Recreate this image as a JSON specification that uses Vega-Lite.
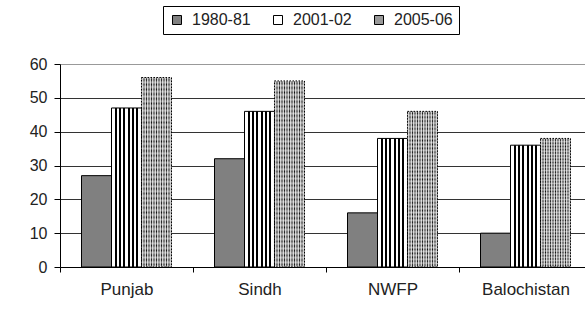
{
  "$schema": "https://vega.github.io/schema/vega-lite/v6.json",
  "width": 532,
  "height": 203,
  "autosize": {"type": "none"},
  "padding": {"left": 60, "top": 64, "right": 0, "bottom": 43},
  "background": "white",
  "config": {"font": "Liberation Sans", "view": {"stroke": null}},
  "data": {"values": [
    {"region": "Punjab", "series": "1980-81", "value": 27},
    {"region": "Punjab", "series": "2001-02", "value": 47},
    {"region": "Punjab", "series": "2005-06", "value": 56},
    {"region": "Sindh", "series": "1980-81", "value": 32},
    {"region": "Sindh", "series": "2001-02", "value": 46},
    {"region": "Sindh", "series": "2005-06", "value": 55},
    {"region": "NWFP", "series": "1980-81", "value": 16},
    {"region": "NWFP", "series": "2001-02", "value": 38},
    {"region": "NWFP", "series": "2005-06", "value": 46},
    {"region": "Balochistan", "series": "1980-81", "value": 10},
    {"region": "Balochistan", "series": "2001-02", "value": 36},
    {"region": "Balochistan", "series": "2005-06", "value": 38}
  ]},
  "encoding": {
    "x": {
      "field": "region", "type": "nominal",
      "sort": ["Punjab", "Sindh", "NWFP", "Balochistan"],
      "scale": {"paddingInner": 0, "paddingOuter": 0},
      "axis": {
        "title": null, "labelAngle": 0, "tickBand": "extent",
        "domainColor": "black", "tickColor": "black", "tickSize": 5,
        "labelFontSize": 17, "labelColor": "#222222", "labelPadding": 9,
        "labelFont": "Liberation Sans"
      }
    },
    "xOffset": {
      "field": "series", "type": "nominal",
      "scale": {"domain": ["1980-81", "2001-02", "2005-06"], "paddingInner": 0, "paddingOuter": 0.7167}
    },
    "y": {
      "field": "value", "type": "quantitative",
      "scale": {"domain": [0, 60]},
      "axis": {
        "title": null, "values": [0, 10, 20, 30, 40, 50, 60],
        "grid": true,
        "gridColor": {"condition": {"test": "datum.value === 60", "value": "#999999"}, "value": "#333333"},
        "domainColor": "black", "tickColor": "black", "tickSize": 6,
        "labelFontSize": 16, "labelColor": "#222222", "labelPadding": 7,
        "labelFont": "Liberation Sans"
      }
    }
  },
  "layer": [
    {
      "transform": [{"filter": "datum.series === '1980-81'"}],
      "mark": {"type": "bar", "stroke": "black", "strokeWidth": 1},
      "encoding": {
        "color": {
          "field": "series", "type": "nominal",
          "scale": {"domain": ["1980-81", "2001-02", "2005-06"], "range": ["#808080", "#ffffff", "#999999"]},
          "legend": {
            "orient": "none", "legendX": 103, "legendY": -58,
            "direction": "horizontal", "title": null,
            "symbolType": "square", "symbolSize": 81,
            "symbolStrokeColor": "black", "symbolStrokeWidth": 1, "symbolOpacity": 1,
            "labelFontSize": 16, "labelFont": "Liberation Sans", "labelColor": "#222222",
            "labelOffset": 7, "columnPadding": 19, "padding": 6,
            "strokeColor": "black", "fillColor": "white"
          }
        }
      }
    },
    {
      "transform": [{"filter": "datum.series === '2001-02'"}],
      "mark": {
        "type": "bar", "stroke": "black", "strokeWidth": 1,
        "fill": {"gradient": "linear", "x1": 0, "y1": 0, "x2": 1, "y2": 0, "stops": [
          {"offset": 0, "color": "#ffffff"},
          {"offset": 0.113, "color": "#ffffff"}, {"offset": 0.113, "color": "#000000"},
          {"offset": 0.173, "color": "#000000"}, {"offset": 0.173, "color": "#ffffff"},
          {"offset": 0.256, "color": "#ffffff"}, {"offset": 0.256, "color": "#000000"},
          {"offset": 0.316, "color": "#000000"}, {"offset": 0.316, "color": "#ffffff"},
          {"offset": 0.399, "color": "#ffffff"}, {"offset": 0.399, "color": "#000000"},
          {"offset": 0.459, "color": "#000000"}, {"offset": 0.459, "color": "#ffffff"},
          {"offset": 0.541, "color": "#ffffff"}, {"offset": 0.541, "color": "#000000"},
          {"offset": 0.601, "color": "#000000"}, {"offset": 0.601, "color": "#ffffff"},
          {"offset": 0.684, "color": "#ffffff"}, {"offset": 0.684, "color": "#000000"},
          {"offset": 0.744, "color": "#000000"}, {"offset": 0.744, "color": "#ffffff"},
          {"offset": 0.827, "color": "#ffffff"}, {"offset": 0.827, "color": "#000000"},
          {"offset": 0.887, "color": "#000000"}, {"offset": 0.887, "color": "#ffffff"},
          {"offset": 1, "color": "#ffffff"}
        ]}
      },
      "encoding": {}
    },
    {
      "transform": [{"filter": "datum.series === '2005-06'"}],
      "mark": {
        "type": "bar", "strokeWidth": 0,
        "fill": {"gradient": "linear", "x1": 0, "y1": 0, "x2": 1, "y2": 0, "stops": [
          {"offset": 0, "color": "#111111"}, {"offset": 0.0417, "color": "#f5f5f5"},
          {"offset": 0.0833, "color": "#111111"}, {"offset": 0.125, "color": "#f5f5f5"},
          {"offset": 0.1667, "color": "#111111"}, {"offset": 0.2083, "color": "#f5f5f5"},
          {"offset": 0.25, "color": "#111111"}, {"offset": 0.2917, "color": "#f5f5f5"},
          {"offset": 0.3333, "color": "#111111"}, {"offset": 0.375, "color": "#f5f5f5"},
          {"offset": 0.4167, "color": "#111111"}, {"offset": 0.4583, "color": "#f5f5f5"},
          {"offset": 0.5, "color": "#111111"}, {"offset": 0.5417, "color": "#f5f5f5"},
          {"offset": 0.5833, "color": "#111111"}, {"offset": 0.625, "color": "#f5f5f5"},
          {"offset": 0.6667, "color": "#111111"}, {"offset": 0.7083, "color": "#f5f5f5"},
          {"offset": 0.75, "color": "#111111"}, {"offset": 0.7917, "color": "#f5f5f5"},
          {"offset": 0.8333, "color": "#111111"}, {"offset": 0.875, "color": "#f5f5f5"},
          {"offset": 0.9167, "color": "#111111"}, {"offset": 0.9583, "color": "#f5f5f5"},
          {"offset": 1, "color": "#111111"}
        ]}
      },
      "encoding": {}
    },
    {
      "transform": [{"filter": "datum.series === '2005-06'"}],
      "mark": {
        "type": "bar", "stroke": "black", "strokeWidth": 1, "strokeDash": [1.5, 1.5],
        "fill": {"gradient": "linear", "x1": 0, "y1": 0, "x2": 0, "y2": 1, "stops": [
          {"offset": 0, "color": "rgba(255,255,255,0.5)"}, {"offset": 0.0125, "color": "rgba(255,255,255,0)"},
          {"offset": 0.025, "color": "rgba(255,255,255,0.5)"}, {"offset": 0.0375, "color": "rgba(255,255,255,0)"},
          {"offset": 0.05, "color": "rgba(255,255,255,0.5)"}, {"offset": 0.0625, "color": "rgba(255,255,255,0)"},
          {"offset": 0.075, "color": "rgba(255,255,255,0.5)"}, {"offset": 0.0875, "color": "rgba(255,255,255,0)"},
          {"offset": 0.1, "color": "rgba(255,255,255,0.5)"}, {"offset": 0.1125, "color": "rgba(255,255,255,0)"},
          {"offset": 0.125, "color": "rgba(255,255,255,0.5)"}, {"offset": 0.1375, "color": "rgba(255,255,255,0)"},
          {"offset": 0.15, "color": "rgba(255,255,255,0.5)"}, {"offset": 0.1625, "color": "rgba(255,255,255,0)"},
          {"offset": 0.175, "color": "rgba(255,255,255,0.5)"}, {"offset": 0.1875, "color": "rgba(255,255,255,0)"},
          {"offset": 0.2, "color": "rgba(255,255,255,0.5)"}, {"offset": 0.2125, "color": "rgba(255,255,255,0)"},
          {"offset": 0.225, "color": "rgba(255,255,255,0.5)"}, {"offset": 0.2375, "color": "rgba(255,255,255,0)"},
          {"offset": 0.25, "color": "rgba(255,255,255,0.5)"}, {"offset": 0.2625, "color": "rgba(255,255,255,0)"},
          {"offset": 0.275, "color": "rgba(255,255,255,0.5)"}, {"offset": 0.2875, "color": "rgba(255,255,255,0)"},
          {"offset": 0.3, "color": "rgba(255,255,255,0.5)"}, {"offset": 0.3125, "color": "rgba(255,255,255,0)"},
          {"offset": 0.325, "color": "rgba(255,255,255,0.5)"}, {"offset": 0.3375, "color": "rgba(255,255,255,0)"},
          {"offset": 0.35, "color": "rgba(255,255,255,0.5)"}, {"offset": 0.3625, "color": "rgba(255,255,255,0)"},
          {"offset": 0.375, "color": "rgba(255,255,255,0.5)"}, {"offset": 0.3875, "color": "rgba(255,255,255,0)"},
          {"offset": 0.4, "color": "rgba(255,255,255,0.5)"}, {"offset": 0.4125, "color": "rgba(255,255,255,0)"},
          {"offset": 0.425, "color": "rgba(255,255,255,0.5)"}, {"offset": 0.4375, "color": "rgba(255,255,255,0)"},
          {"offset": 0.45, "color": "rgba(255,255,255,0.5)"}, {"offset": 0.4625, "color": "rgba(255,255,255,0)"},
          {"offset": 0.475, "color": "rgba(255,255,255,0.5)"}, {"offset": 0.4875, "color": "rgba(255,255,255,0)"},
          {"offset": 0.5, "color": "rgba(255,255,255,0.5)"}, {"offset": 0.5125, "color": "rgba(255,255,255,0)"},
          {"offset": 0.525, "color": "rgba(255,255,255,0.5)"}, {"offset": 0.5375, "color": "rgba(255,255,255,0)"},
          {"offset": 0.55, "color": "rgba(255,255,255,0.5)"}, {"offset": 0.5625, "color": "rgba(255,255,255,0)"},
          {"offset": 0.575, "color": "rgba(255,255,255,0.5)"}, {"offset": 0.5875, "color": "rgba(255,255,255,0)"},
          {"offset": 0.6, "color": "rgba(255,255,255,0.5)"}, {"offset": 0.6125, "color": "rgba(255,255,255,0)"},
          {"offset": 0.625, "color": "rgba(255,255,255,0.5)"}, {"offset": 0.6375, "color": "rgba(255,255,255,0)"},
          {"offset": 0.65, "color": "rgba(255,255,255,0.5)"}, {"offset": 0.6625, "color": "rgba(255,255,255,0)"},
          {"offset": 0.675, "color": "rgba(255,255,255,0.5)"}, {"offset": 0.6875, "color": "rgba(255,255,255,0)"},
          {"offset": 0.7, "color": "rgba(255,255,255,0.5)"}, {"offset": 0.7125, "color": "rgba(255,255,255,0)"},
          {"offset": 0.725, "color": "rgba(255,255,255,0.5)"}, {"offset": 0.7375, "color": "rgba(255,255,255,0)"},
          {"offset": 0.75, "color": "rgba(255,255,255,0.5)"}, {"offset": 0.7625, "color": "rgba(255,255,255,0)"},
          {"offset": 0.775, "color": "rgba(255,255,255,0.5)"}, {"offset": 0.7875, "color": "rgba(255,255,255,0)"},
          {"offset": 0.8, "color": "rgba(255,255,255,0.5)"}, {"offset": 0.8125, "color": "rgba(255,255,255,0)"},
          {"offset": 0.825, "color": "rgba(255,255,255,0.5)"}, {"offset": 0.8375, "color": "rgba(255,255,255,0)"},
          {"offset": 0.85, "color": "rgba(255,255,255,0.5)"}, {"offset": 0.8625, "color": "rgba(255,255,255,0)"},
          {"offset": 0.875, "color": "rgba(255,255,255,0.5)"}, {"offset": 0.8875, "color": "rgba(255,255,255,0)"},
          {"offset": 0.9, "color": "rgba(255,255,255,0.5)"}, {"offset": 0.9125, "color": "rgba(255,255,255,0)"},
          {"offset": 0.925, "color": "rgba(255,255,255,0.5)"}, {"offset": 0.9375, "color": "rgba(255,255,255,0)"},
          {"offset": 0.95, "color": "rgba(255,255,255,0.5)"}, {"offset": 0.9625, "color": "rgba(255,255,255,0)"},
          {"offset": 0.975, "color": "rgba(255,255,255,0.5)"}, {"offset": 0.9875, "color": "rgba(255,255,255,0)"},
          {"offset": 1, "color": "rgba(255,255,255,0.5)"}
        ]}
      },
      "encoding": {}
    }
  ]
}
